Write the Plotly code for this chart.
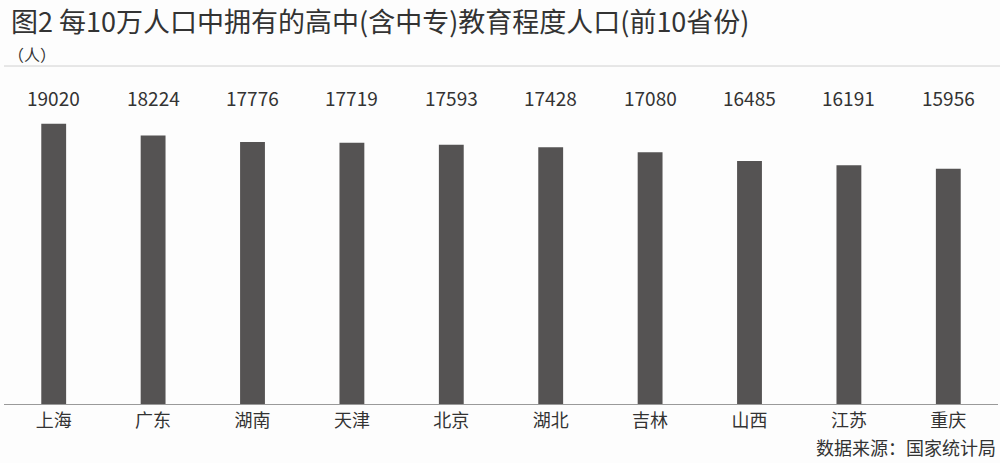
import plotly.graph_objects as go

categories = ["上海", "广东", "湖南", "天津", "北京", "湖北", "吉林", "山西", "江苏", "重庆"]
values = [19020, 18224, 17776, 17719, 17593, 17428, 17080, 16485, 16191, 15956]
title_text = "图2 每10万人口中拥有的高中(含中专)教育程度人口(前10省份)"
unit_text = "（人）"
source_text = "数据来源：国家统计局"

FONT = "Noto Sans CJK SC"
TXT = "#333333"
W, H = 1000, 463
ML, MR, MT, MB = 4, 2, 65, 59
plot_h = H - MT - MB


def py(ypix):
    return (H - MB - ypix) / plot_h


fig = go.Figure()
fig.add_trace(go.Bar(
    x=categories, y=values, width=0.25,
    marker=dict(color="#555353", line=dict(width=0)),
    hoverinfo="skip",
))

# value labels on a common row above the bars
for c, v in zip(categories, values):
    fig.add_annotation(x=c, y=py(97), xref="x", yref="paper", text=str(v),
                       showarrow=False, font=dict(family=FONT, size=19, color=TXT),
                       xanchor="center", yanchor="middle")

fig.add_annotation(x=0.005, y=py(20), xref="paper", yref="paper", text=title_text,
                   showarrow=False, font=dict(family=FONT, size=27, color=TXT),
                   xanchor="left", yanchor="middle")
fig.add_annotation(x=0.002, y=py(54), xref="paper", yref="paper", text=unit_text,
                   showarrow=False, font=dict(family=FONT, size=16, color=TXT),
                   xanchor="left", yanchor="middle")
fig.add_annotation(x=1.0, y=py(447), xref="paper", yref="paper", text=source_text,
                   showarrow=False, font=dict(family=FONT, size=18, color=TXT),
                   xanchor="right", yanchor="middle")
fig.add_shape(type="line", xref="paper", yref="paper", x0=0, x1=1.01,
              y0=py(66), y1=py(66), line=dict(color="#d0d0d0", width=1))

fig.update_layout(
    width=W, height=H,
    margin=dict(l=ML, r=MR, t=MT, b=MB),
    paper_bgcolor="#fdfdfd", plot_bgcolor="#fdfdfd",
    showlegend=False,
    xaxis=dict(showline=True, linecolor="#9a9a9a", linewidth=1, ticks="",
               tickfont=dict(family=FONT, size=18, color=TXT), showgrid=False,
               fixedrange=True),
    yaxis=dict(range=[0, 23000], visible=False, showgrid=False, fixedrange=True),
)

fig.write_html("out.html", config={"displayModeBar": False},
               post_script="document.body.style.margin='0';")
